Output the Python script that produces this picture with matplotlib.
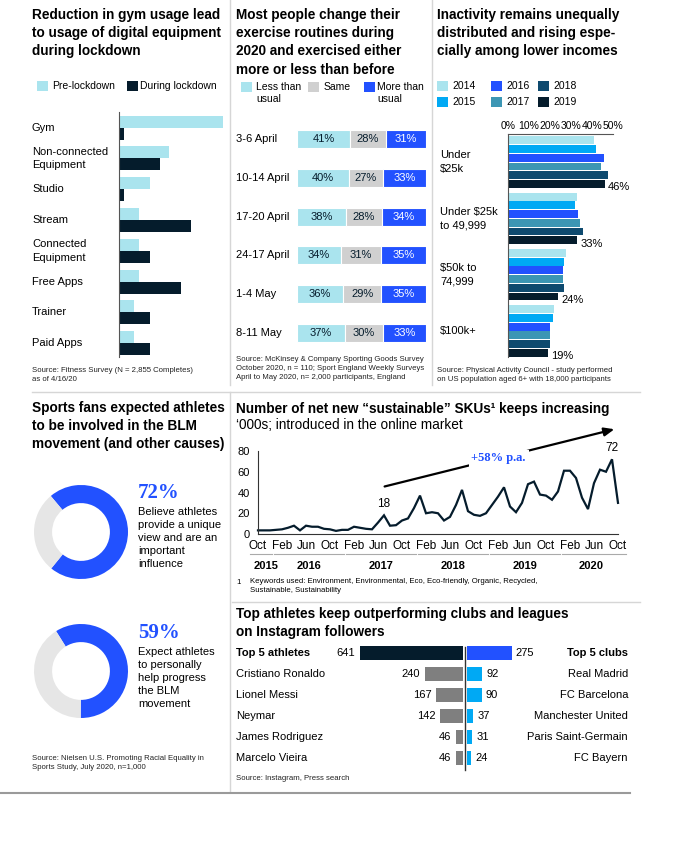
import numpy as np
import matplotlib
matplotlib.use('Agg')
import matplotlib.pyplot as plt
from matplotlib.patches import Rectangle
from matplotlib.lines import Line2D

plt.rcParams['font.family'] = ['Liberation Sans', 'DejaVu Sans']

# ---- data ----
gym_cats = ['Gym', 'Non-connected\nEquipment', 'Studio', 'Stream', 'Connected\nEquipment',
            'Free Apps', 'Trainer', 'Paid Apps']
gym_pre = [62, 30, 18.5, 12, 12, 12, 9, 9]
gym_during = [2.8, 24.5, 2.8, 43, 18.5, 37, 18.5, 18.5]

weeks = ['3-6 April', '10-14 April', '17-20 April', '24-17 April', '1-4 May', '8-11 May']
less_usual = [41, 40, 38, 34, 36, 37]
same_usual = [28, 27, 28, 31, 29, 30]
more_usual = [31, 33, 34, 35, 35, 33]

income_groups = ['Under\n$25k', 'Under $25k\nto 49,999', '$50k to\n74,999', '$100k+']
years = ['2014', '2015', '2016', '2017', '2018', '2019']
inact_2014 = [41, 33, 27.5, 22]
inact_2015 = [42, 32, 26.5, 21.5]
inact_2016 = [45.5, 33.5, 26, 20]
inact_2017 = [44.5, 34.5, 26, 20]
inact_2018 = [47.5, 35.5, 26.5, 20]
inact_2019 = [46, 33, 24, 19]

blm_share = [72, 59]
blm_text = ['Believe athletes\nprovide a unique\nview and are an\nimportant\ninfluence',
            'Expect athletes\nto personally\nhelp progress\nthe BLM\nmovement']

# monthly, Oct 2015 .. Oct 2020
sku_values = [3.5, 3.5, 3.5, 4, 4.5, 6, 8, 3.5, 8, 7,
              7, 5, 4.5, 3, 4, 4, 7, 6, 5, 4.5,
              11, 18, 8, 8.5, 13, 15, 25, 37, 20, 21,
              20, 13, 16.5, 28, 42.5, 22, 18.5, 17.5, 20, 28,
              36, 45, 26.5, 21, 30, 48, 50.5, 38, 37, 33,
              41, 61, 61, 54, 35, 24, 49, 62, 60, 72, 30]
month_ticks = ['Oct', 'Feb', 'Jun', 'Oct', 'Feb', 'Jun', 'Oct', 'Feb', 'Jun', 'Oct',
               'Feb', 'Jun', 'Oct', 'Feb', 'Jun', 'Oct']
sku_years = ['2015', '2016', '2017', '2018', '2019', '2020']

athletes = ['Top 5 athletes', 'Cristiano Ronaldo', 'Lionel Messi', 'Neymar',
            'James Rodriguez', 'Marcelo Vieira']
athlete_followers = [641, 240, 167, 142, 46, 46]
clubs = ['Top 5 clubs', 'Real Madrid', 'FC Barcelona', 'Manchester United',
         'Paris Saint-Germain', 'FC Bayern']
club_followers = [275, 92, 90, 37, 31, 24]

# ---- colours ----
NAVY = '#051c2c'
BLUE = '#2251ff'
CYAN = '#00a9f4'
LIGHT = '#aae4ee'
GRAY = '#d0d0d0'
year_colors = [LIGHT, CYAN, BLUE, '#3c96b4', '#0e4a6f', NAVY]

TITLE_FS = 9.8
W, H = 674, 850
fig = plt.figure(figsize=(W / 100, H / 100), dpi=100)


def axes_px(x0, y0, x1, y1):
    return fig.add_axes([x0 / W, 1 - y1 / H, (x1 - x0) / W, (y1 - y0) / H])


def text_px(x, y, s, **kw):
    kw.setdefault('va', 'center')
    return fig.text(x / W, 1 - y / H, s, **kw)


def swatch(x, y, color, w=11, h=10):
    fig.add_artist(Rectangle((x / W, 1 - (y + h) / H), w / W, h / H,
                             transform=fig.transFigure, color=color, lw=0))


def line_px(x0, y0, x1, y1, color='#d6d6d6', lw=1):
    fig.add_artist(Line2D([x0 / W, x1 / W], [1 - y0 / H, 1 - y1 / H],
                          transform=fig.transFigure, color=color, lw=lw))


def title(x, y, s):
    text_px(x, y, s, va='top', fontsize=TITLE_FS, fontweight='bold', linespacing=1.38)


def source(x, y, s):
    text_px(x, y, s, va='top', fontsize=5.6, linespacing=1.42, color='#222222')


def clean(ax):
    for sp in ax.spines.values():
        sp.set_visible(False)
    ax.set_xticks([])
    ax.set_yticks([])


# separators
line_px(230, 0, 230, 385)
line_px(432, 0, 432, 385)
line_px(32, 392, 640, 392)
line_px(230, 392, 230, 792)
line_px(232, 602, 640, 602)
line_px(0, 793, 630, 793, color='#9a9a9a', lw=1.5)

# ---- panel 1: gym usage ----
title(32, 8, 'Reduction in gym usage lead\nto usage of digital equipment\nduring lockdown')
swatch(37, 81, LIGHT)
text_px(52, 86, 'Pre-lockdown', fontsize=7.5)
swatch(127, 81, NAVY)
text_px(140, 86, 'During lockdown', fontsize=7.5)

ax1 = axes_px(119, 112, 223, 357)
y = np.arange(len(gym_cats))
ax1.barh(y - 0.195, gym_pre, height=0.39, color=LIGHT)
ax1.barh(y + 0.195, gym_during, height=0.39, color=NAVY)
ax1.set_xlim(0, 62)
ax1.set_ylim(7.45, -0.51)
clean(ax1)
ax1.spines['left'].set_visible(True)
ax1.spines['left'].set_color('#555555')
lx = (32 - 119) / (223 - 119)
for i, c in enumerate(gym_cats):
    ax1.text(lx, i, c, transform=ax1.get_yaxis_transform(), ha='left', va='center',
             fontsize=8, linespacing=1.45)
source(32, 367, 'Source: Fitness Survey (N = 2,855 Completes)\nas of 4/16/20')

# ---- panel 2: exercise routines ----
title(236, 8, 'Most people change their\nexercise routines during\n2020 and exercised either\nmore or less than before')
swatch(241, 82, LIGHT)
text_px(256, 82, 'Less than\nusual', va='top', fontsize=7.5, linespacing=1.22)
swatch(308, 82, GRAY)
text_px(324, 82, 'Same', va='top', fontsize=7.5)
swatch(364, 82, BLUE)
text_px(377, 82, 'More than\nusual', va='top', fontsize=7.5, linespacing=1.22)

ax2 = axes_px(297, 120, 426, 352)
y = np.arange(len(weeks))
left = np.zeros(len(weeks))
for vals, col, tc in [(less_usual, LIGHT, NAVY), (same_usual, GRAY, NAVY), (more_usual, BLUE, 'white')]:
    ax2.barh(y, vals, left=left, height=0.46, color=col, edgecolor='white', lw=0.8)
    for i, v in enumerate(vals):
        ax2.text(left[i] + v / 2, i, f'{v}%', ha='center', va='center', fontsize=8, color=tc)
    left += np.array(vals)
ax2.set_xlim(0, 100)
ax2.set_ylim(5.49, -0.49)
clean(ax2)
lx = (236 - 297) / (426 - 297)
for i, w in enumerate(weeks):
    ax2.text(lx, i, w, transform=ax2.get_yaxis_transform(), ha='left', va='center', fontsize=8)
source(236, 356, 'Source: McKinsey & Company Sporting Goods Survey\n'
                 'October 2020, n = 110; Sport England Weekly Surveys\n'
                 'April to May 2020, n= 2,000 participants, England')

# ---- panel 3: inactivity ----
title(437, 8, 'Inactivity remains unequally\ndistributed and rising espe-\ncially among lower incomes')
for j, yr in enumerate(years):
    cx = [437, 491, 538][j // 2]
    cy = [81, 97][j % 2]
    swatch(cx, cy, year_colors[j])
    text_px(cx + 15, cy + 5, yr, fontsize=7.5)

ax3 = axes_px(508, 134, 613, 357)
series = [inact_2014, inact_2015, inact_2016, inact_2017, inact_2018, inact_2019]
gstep = 6.47
for j, vals in enumerate(series):
    pos = np.arange(len(income_groups)) * gstep + j
    ax3.barh(pos, vals, height=0.9, color=year_colors[j])
    if j == len(series) - 1:
        for p, v in zip(pos, vals):
            ax3.annotate(f'{v:.0f}%', xy=(v, p), xytext=(2, -2.5), textcoords='offset points',
                         ha='left', va='center', fontsize=8)
ax3.set_xlim(0, 50)
ax3.set_ylim(24.9, -0.73)
for sp in ['right', 'bottom']:
    ax3.spines[sp].set_visible(False)
for sp in ['top', 'left']:
    ax3.spines[sp].set_color('#555555')
ax3.xaxis.tick_top()
ax3.set_xticks(range(0, 51, 10))
ax3.set_xticklabels([f'{t}%' for t in range(0, 51, 10)])
ax3.tick_params(axis='x', length=0, pad=2, labelsize=7.5)
ax3.set_yticks([])
lx = (440 - 508) / (613 - 508)
for g, name in enumerate(income_groups):
    ax3.text(lx, g * gstep + 2.5, name, transform=ax3.get_yaxis_transform(),
             ha='left', va='center', fontsize=8, linespacing=1.45)
source(437, 367, 'Source: Physical Activity Council - study performed\n'
                 'on US population aged 6+ with 18,000 participants')

# ---- panel 4: BLM donuts ----
title(32, 401, 'Sports fans expected athletes\nto be involved in the BLM\nmovement (and other causes)')
for k, (share, desc) in enumerate(zip(blm_share, blm_text)):
    cx, cy = 81, [532, 671][k]
    axd = axes_px(cx - 47, cy - 47, cx + 47, cy + 47)
    axd.pie([share, 100 - share], colors=[BLUE, '#e6e6e6'], startangle=[130, 122][k],
            counterclock=False, radius=1, wedgeprops=dict(width=0.385, linewidth=0))
    axd.set_xlim(-1, 1)
    axd.set_ylim(-1, 1)
    axd.set_aspect('equal')
    axd.axis('off')
    base = [498, 638][k]
    text_px(138, base, f'{share}%', va='baseline', fontsize=15, fontweight='bold',
            color=BLUE, family=['Liberation Serif', 'DejaVu Serif'])
    text_px(138, base + 9, desc, va='top', fontsize=8, linespacing=1.39)
source(32, 755, 'Source: Nielsen U.S. Promoting Racial Equality in\nSports Study, July 2020, n=1,000')

# ---- panel 5: sustainable SKUs ----
text_px(236, 409, 'Number of net new \u201csustainable\u201d SKUs\u00b9 keeps increasing',
        fontsize=TITLE_FS, fontweight='bold')
text_px(236, 425, '\u2018000s; introduced in the online market', fontsize=TITLE_FS)

ax5 = axes_px(258, 451, 618, 534)
months = np.arange(len(sku_values))
ax5.plot(months, sku_values, color=NAVY, lw=1.6, clip_on=False, solid_joinstyle='miter')
ax5.set_xlim(0, 60)
ax5.set_ylim(0, 80)
for sp in ['top', 'right']:
    ax5.spines[sp].set_visible(False)
for sp in ['left', 'bottom']:
    ax5.spines[sp].set_color('#333333')
ax5.set_yticks([0, 20, 40, 60, 80])
ax5.set_xticks(range(0, 61, 4))
ax5.set_xticklabels(month_ticks)
ax5.tick_params(axis='both', length=0)
ax5.tick_params(axis='y', pad=6, labelsize=8)
ax5.tick_params(axis='x', pad=4, labelsize=8.5)
for idx in [21, 59]:
    ax5.annotate(f'{sku_values[idx]:.0f}', xy=(idx, sku_values[idx]), xytext=(0, 8),
                 textcoords='offset points', ha='center', va='center', fontsize=8.5)
ax5.annotate('', xy=(59.4, 101), xytext=(21.1, 45.8),
             arrowprops=dict(arrowstyle='-|>,head_length=0.6,head_width=0.25', color='black',
                             lw=1.6, shrinkA=0, shrinkB=0),
             annotation_clip=False)
ax5.text(40.1, 73, '+58% p.a.', ha='center', va='center', fontsize=9, fontweight='bold',
         color=BLUE, family=['Liberation Serif', 'DejaVu Serif'],
         bbox=dict(facecolor='white', edgecolor='none', pad=2))
ytr = ax5.get_xaxis_transform()
for k, yr in enumerate(sku_years):
    a = max(0, k * 12 - 9)
    b = k * 12 + 2
    x0 = a - 0.4 - (1.0 if a == 0 else 0)
    x1 = min(b, 61) + 0.4
    ax5.plot([x0, x1], [-0.24, -0.24], transform=ytr, color='#aaaaaa', lw=0.8, clip_on=False)
    ax5.text((a + min(b, 60)) / 2 + (0.3 if a == 0 else 0), -0.38, yr, transform=ytr,
             ha='center', va='center', fontsize=8, fontweight='bold')
text_px(236, 583, '1', fontsize=5.6)
text_px(250, 578, 'Keywords used: Environment, Environmental, Eco, Eco-friendly, Organic, Recycled,\n'
                  'Sustainable, Sustainability', va='top', fontsize=5.6, linespacing=1.4)

# ---- panel 6: instagram followers ----
title(236, 607, 'Top athletes keep outperforming clubs and leagues\non Instagram followers')
ax6 = axes_px(236, 640, 628, 772)
scale = 103.3 / 641
gap = 2 / scale
ax6.set_xlim(-229.3 / scale, 162.7 / scale)
ax6.set_ylim(5.67, -0.62)
clean(ax6)
y = np.arange(len(athletes))
lcols = [NAVY] + ['#7f7f7f'] * (len(athletes) - 1)
rcols = [BLUE] + [CYAN] * (len(clubs) - 1)
ax6.barh(y, [-v for v in athlete_followers], left=-gap, height=0.7, color=lcols)
ax6.barh(y, club_followers, left=gap, height=0.7, color=rcols)
ax6.plot([0, 0], [-0.29, 5.57], color='#333333', lw=1)
for i in range(len(athletes)):
    fw = 'bold' if i == 0 else 'normal'
    ax6.text(0, i, athletes[i], transform=ax6.get_yaxis_transform(), ha='left', va='center',
             fontsize=8, fontweight=fw)
    ax6.text(1, i, clubs[i], transform=ax6.get_yaxis_transform(), ha='right', va='center',
             fontsize=8, fontweight=fw)
    ax6.annotate(str(athlete_followers[i]), xy=(-gap - athlete_followers[i], i), xytext=(-3.5, 0),
                 textcoords='offset points', ha='right', va='center', fontsize=8)
    ax6.annotate(str(club_followers[i]), xy=(gap + club_followers[i], i), xytext=(3, 0),
                 textcoords='offset points', ha='left', va='center', fontsize=8)
source(236, 775, 'Source: Instagram, Press search')

fig.savefig('out.png', dpi=100)
